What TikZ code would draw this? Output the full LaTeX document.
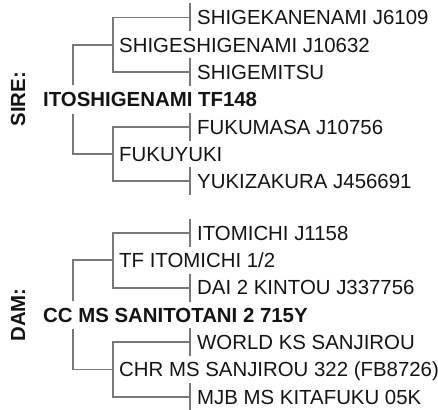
\documentclass[tikz,border=0pt]{standalone}
\usepackage{fontspec}
\setmainfont{Liberation Sans}
\definecolor{linegray}{RGB}{120,120,120}
\definecolor{txt}{RGB}{20,20,20}
\begin{document}
\begin{tikzpicture}[x=1pt,y=-1pt,
  pname/.style={anchor=west,inner sep=0pt,text height=14.6pt,text depth=0pt,text=txt,
    font=\fontsize{20.4}{24}\selectfont},
  rootname/.style={pname,font=\fontsize{20.4}{24}\selectfont\bfseries,fill=white,inner ysep=6.7pt},
  side/.style={rotate=90,inner sep=0pt,text=txt,font=\fontsize{20.4}{24}\selectfont\bfseries},
  conn/.style={draw=linegray,line width=1.8pt},
  tickline/.style={draw=linegray,line width=1.8pt}]
\useasboundingbox (0,0) rectangle (438,409);
\coordinate (b1) at (73,0);
\coordinate (b2) at (113,0);
\coordinate (tk) at (190,0);

% ---------- SIRE ----------
\node[side] (sire) at (18,99.4) {SIRE:};
\node[rootname] (r1) at (43,99.4) {ITOSHIGENAMI TF148};
\node[pname] (s1) at (119,44.8) {SHIGESHIGENAMI J10632};
\node[pname] (s2) at (119,154) {FUKUYUKI};
\node[pname] (l1) at (197,17.5) {SHIGEKANENAMI J6109};
\node[pname] (l2) at (197,72.1) {SHIGEMITSU};
\node[pname] (l3) at (197,126.7) {FUKUMASA J10756};
\node[pname] (l4) at (197,181.3) {YUKIZAKURA J456691};

\draw[conn] (r1.north -| b1) |- (s1.west -| b2);
\draw[conn] (r1.south -| b1) |- (s2.west -| b2);
\draw[conn] (l1.west -| tk) -| (l2.west -| b2) -- (l2.west -| tk);
\draw[conn] (l3.west -| tk) -| (l4.west -| b2) -- (l4.west -| tk);
\foreach \n in {l1,l2,l3,l4}
  \draw[tickline] ([yshift=-14pt]\n.west -| tk) -- ([yshift=14pt]\n.west -| tk);

% ---------- DAM ----------
\node[side] (dam) at (18,314.9) {DAM:};
\node[rootname] (r2) at (43,314.9) {CC MS SANITOTANI 2 715Y};
\node[pname] (d1) at (119,260.3) {TF ITOMICHI 1/2};
\node[pname] (d2) at (119,369.5) {CHR MS SANJIROU 322 (FB8726)};
\node[pname] (m1) at (197,233) {ITOMICHI J1158};
\node[pname] (m2) at (197,287.6) {DAI 2 KINTOU J337756};
\node[pname] (m3) at (197,342.2) {WORLD KS SANJIROU};
\node[pname] (m4) at (197,396.8) {MJB MS KITAFUKU 05K};

\draw[conn] (r2.north -| b1) |- (d1.west -| b2);
\draw[conn] (r2.south -| b1) |- (d2.west -| b2);
\draw[conn] (m1.west -| tk) -| (m2.west -| b2) -- (m2.west -| tk);
\draw[conn] (m3.west -| tk) -| (m4.west -| b2) -- (m4.west -| tk);
\foreach \n in {m1,m2,m3,m4}
  \draw[tickline] ([yshift=-14pt]\n.west -| tk) -- ([yshift=14pt]\n.west -| tk);
\end{tikzpicture}
\end{document}
